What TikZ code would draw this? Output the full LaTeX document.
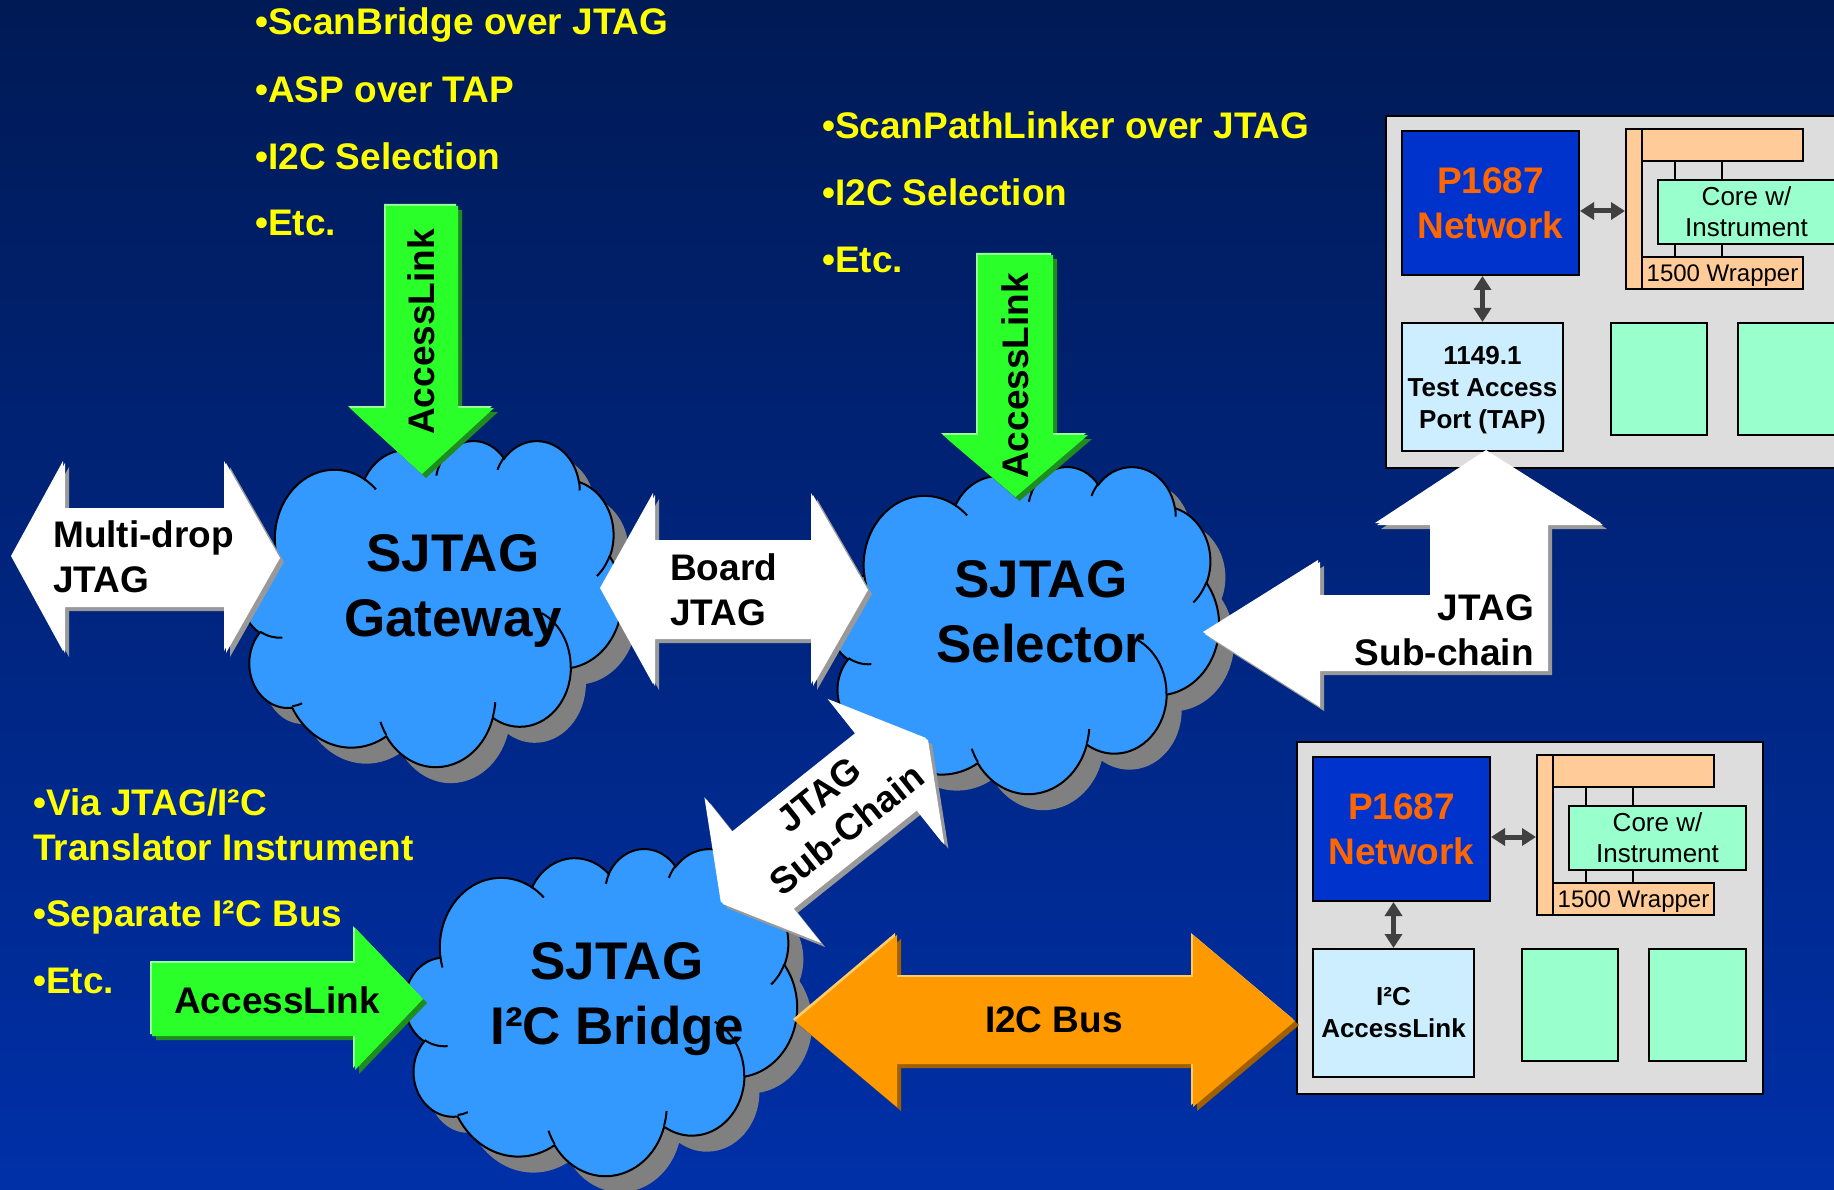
\documentclass[tikz,border=0pt]{standalone}
\usepackage{fontspec}
\setmainfont{Liberation Sans}
\usetikzlibrary{arrows.meta}

\definecolor{bgtop}{HTML}{001A55}
\definecolor{bgbot}{HTML}{0030A8}
\definecolor{cloudblue}{HTML}{3399FF}
\definecolor{cloudshade}{HTML}{808080}
\definecolor{txtyellow}{HTML}{FFFF00}
\definecolor{accgreen}{HTML}{2AFF2A}
\definecolor{accgreendark}{HTML}{1E8C1E}
\definecolor{accgreenlight}{HTML}{99FF99}
\definecolor{busorange}{HTML}{FF9900}
\definecolor{busorangedark}{HTML}{A06000}
\definecolor{busorangelight}{HTML}{FFCC66}
\definecolor{arrowshade}{HTML}{999999}
\definecolor{panelgray}{HTML}{DDDDDD}
\definecolor{netblue}{HTML}{0033CC}
\definecolor{netorange}{HTML}{FF6600}
\definecolor{wrapperfill}{HTML}{FFCC99}
\definecolor{corefill}{HTML}{99FFCC}
\definecolor{portfill}{HTML}{CCEEFF}
\definecolor{linkgray}{HTML}{404040}

% font size helper: size and line spacing in pt
\newcommand\fsz[2]{\fontsize{#1}{#2}\selectfont}
% block arrow: shadow colour, highlight colour, fill colour, outline path
\newcommand\sjblock[4]{%
  \fill[#1, shift={(4,4)}] #4;
  \fill[#2, shift={(-2,-2)}] #4;
  \fill[#3] #4;}

% cloud outline in a 100 x 100 box (eleven elliptic puffs)
\newcommand\cloudoutline{(9.028,33.264)
  arc[start angle=172.255, delta angle=128.108, x radius=15.632, y radius=21.273]
  arc[start angle=-152.029, delta angle=106.568, x radius=12.345, y radius=16.822]
  arc[start angle=-153.49, delta angle=116.17, x radius=10.104, y radius=13.762]
  arc[start angle=-139.71, delta angle=129.50, x radius=11.243, y radius=15.266]
  arc[start angle=-74.77, delta angle=97.98, x radius=12.345, y radius=16.836]
  arc[start angle=-37.52, delta angle=119.38, x radius=15.683, y radius=21.343]
  arc[start angle=0.46, delta angle=121.52, x radius=13.391, y radius=18.211]
  arc[start angle=16.85, delta angle=129.37, x radius=15.630, y radius=21.331]
  arc[start angle=58.99, delta angle=91.19, x radius=17.870, y radius=24.405]
  arc[start angle=83.31, delta angle=139.79, x radius=10.093, y radius=13.699]
  arc[start angle=120.36, delta angle=143.75, x radius=10.058, y radius=13.762] -- cycle}
% short creases where the puffs overlap
\newcommand\cloudcreases{
  (10.863,60.595) arc[start angle=85.546, delta angle=34.81, x radius=10.058, y radius=13.762]
  (16.037,80.785) arc[start angle=68.23, delta angle=15.08, x radius=10.093, y radius=13.699]
  (38.144,90.486) arc[start angle=146.22, delta angle=12.26, x radius=15.630, y radius=21.331]
  (66.729,80.442) arc[start angle=4.738, delta angle=12.11, x radius=15.630, y radius=21.331]
  (79.002,53.134) arc[start angle=-64.03, delta angle=64.49, x radius=13.391, y radius=18.211]
  (96.755,35.542) arc[start angle=23.21, delta angle=26.43, x radius=12.345, y radius=16.836]
  (88.713,12.560) arc[start angle=-10.21, delta angle=11.03, x radius=11.243, y radius=15.266]
  (67.310,9.148) arc[start angle=-156.29, delta angle=16.58, x radius=11.243, y radius=15.266]
  (51.252,10.926) arc[start angle=-167.73, delta angle=14.24, x radius=10.104, y radius=13.762]
  (32.407,12.019) arc[start angle=-59.637, delta angle=13.89, x radius=15.632, y radius=21.273]
  (9.553,36.549) arc[start angle=163.19, delta angle=9.07, x radius=15.632, y radius=21.273]}
% cloud with drop shadow: top-left x, top-left y, width/100, height/100
\newcommand\sjcloud[4]{%
  \begin{scope}[shift={(#1+15,#2+16)}, x=#3pt, y=-#4pt]
    \fill[cloudshade] \cloudoutline;
  \end{scope}
  \begin{scope}[shift={(#1,#2)}, x=#3pt, y=-#4pt]
    \filldraw[fill=cloudblue, draw=black, line width=2] \cloudoutline;
    \draw[black, line width=2] \cloudcreases;
  \end{scope}}

\tikzset{
  lbl/.style={font=\bfseries\fsz{37}{45}, inner sep=0, text=black},
  note/.style={font=\bfseries\fsz{37}{45}, inner sep=0, text=txtyellow, anchor=base west},
  cloudtxt/.style={font=\bfseries\fsz{53}{65}, align=center, inner sep=0},
  box/.style={draw=black, line width=2, inner sep=0},
  sz/.style 2 args={minimum width=#1, minimum height=#2},
  dbl/.style={draw=linkgray, line width=5,
    {Triangle[length=14pt,width=17pt]}-{Triangle[length=14pt,width=17pt]}},
  tie/.style={draw=black, line width=1.5},
  chip/.pic={
    \node[box, sz={466}{352}, fill=panelgray] (-frame) at (233,176) {};
    \node[box, sz={177}{144}, fill=netblue, font=\bfseries\fsz{37}{45},
          text=netorange, align=center] (-net) at (104.5,87) {P1687\\Network};
    \node[box, sz={16}{160}, fill=wrapperfill] (-vbar) at (248,93) {};
    \node[box, sz={161}{32}, fill=wrapperfill] (-topbar) at (336.5,29) {};
    \node[box, sz={161}{32}, fill=wrapperfill, font=\fsz{24}{28},
          text height=17pt, text depth=0pt] (-botbar) at (336.5,157) {1500 Wrapper};
    \node[box, sz={177}{64}, fill=corefill, font=\fsz{26}{31}, align=center] (-core) at (360.5,96) {Core w/\\Instrument};
    \node[box, sz={161}{128}, fill=portfill, font=\bfseries\fsz{26}{32}, align=center] (-port) at (96.5,271) {#1};
    \node[box, sz={96}{112}, fill=corefill] (-minta) at (273,263) {};
    \node[box, sz={97}{112}, fill=corefill] (-mintb) at (400.5,263) {};
    \foreach \dx in {-71.5,-24.5} {
      \draw[tie] ([xshift=\dx]-core.north) -- ++(0,-19);
      \draw[tie] ([xshift=\dx]-core.south) -- ++(0,13);
    }
    \draw[dbl] ([yshift=-8]-net.east) -- ([yshift=-2]-vbar.west);
    \draw[dbl] ([xshift=-8]-net.south) -- (-port.north);
  }
}

\begin{document}
\begin{tikzpicture}[x=1pt, y=-1pt]
\useasboundingbox (0,0) rectangle (1834,1190);
\clip (0,0) rectangle (1834,1190);
\shade[top color=bgtop, bottom color=bgbot] (0,0) rectangle (1834,1190);

% chip panels
\pic (tp) at (1386,116) {chip={1149.1\\Test Access\\\smash{Port (TAP)}}};
\pic (bp) at (1297,742) {chip={I²C\\AccessLink}};

% clouds
\sjcloud{241}{440}{3.81}{3.26}
\sjcloud{829}{466}{3.90}{3.27}
\sjcloud{405}{848}{3.92}{3.27}

\node[cloudtxt] (gwtxt)  at (453,591) {SJTAG\\Gateway};
\node[cloudtxt] (seltxt) at (1041,612) {SJTAG\\Selector};
\node[cloudtxt] (brtxt)  at (617,999) {SJTAG\\I²C Bridge};

% white JTAG arrows
\sjblock{arrowshade}{white}{white}{(13,558) -- (65,463) -- (65,510) -- (226,510) -- (226,463) -- (280,558)
  -- (226,653) -- (226,607) -- (65,607) -- (65,653) -- cycle}
\node[lbl, anchor=west, align=left] (mdtxt) at (53,557) {Multi-drop\\JTAG};

\sjblock{arrowshade}{white}{white}{(602,590) -- (655,495) -- (655,542) -- (813,542) -- (813,495) -- (868,590)
  -- (813,686) -- (813,639) -- (655,639) -- (655,686) -- cycle}
\node[lbl, anchor=west, align=left] (bjtxt) at (670,590) {Board\\JTAG};

\sjblock{arrowshade}{white}{white}{(1205,634) -- (1320,562) -- (1320,597) -- (1432,597) -- (1432,525)
  -- (1377,525) -- (1488,452) -- (1603,525) -- (1548,525) -- (1548,671) -- (1320,671) -- (1320,707) -- cycle}
\node[lbl, anchor=east, align=right] (sctxt) at (1534,630) {JTAG\\Sub-chain};

\sjblock{arrowshade}{white}{white}{(722.8,904) -- (706.4,799.3) -- (733.8,833.7) -- (857,735.3) -- (829.6,700.9)
  -- (928,740) -- (944.4,844.7) -- (917,810.3) -- (793.8,908.7) -- (821.2,943.1) -- cycle}
\node[lbl, align=center, rotate=38.6] (dgtxt) at (833,812) {JTAG\\Sub-Chain};

% green AccessLink arrows
\sjblock{accgreendark}{accgreenlight}{accgreen}{(386,206) -- (458,206) -- (458,408) -- (494,408)
  -- (422,474) -- (350,408) -- (386,408) -- cycle}
\node[lbl, rotate=90] (acc1) at (421,332) {AccessLink};

\sjblock{accgreendark}{accgreenlight}{accgreen}{(978,255) -- (1053,255) -- (1053,435) -- (1088,435)
  -- (1015.5,497) -- (943,435) -- (978,435) -- cycle}
\node[lbl, rotate=90] (acc2) at (1015,376) {AccessLink};

\sjblock{accgreendark}{accgreenlight}{accgreen}{(152,963) -- (355,963) -- (355,928) -- (423,999)
  -- (355,1070) -- (355,1036) -- (152,1036) -- cycle}
\node[lbl] (acc3) at (277,1000) {AccessLink};

% orange I2C bus
\sjblock{busorangedark}{busorangelight}{busorange}{(795,1021) -- (897,935) -- (897,977) -- (1193,977)
  -- (1193,935) -- (1295,1021) -- (1193,1107) -- (1193,1064) -- (897,1064) -- (897,1107) -- cycle}
\node[lbl] (bustxt) at (1054,1020) {I2C Bus};

% yellow bullet notes
\node[note] (n1) at (255,35)  {•ScanBridge over JTAG};
\node[note] (n2) at (255,103) {•ASP over TAP};
\node[note] (n3) at (255,170) {•I2C Selection};
\node[note] (n4) at (255,236) {•Etc.};

\node[note] (m1) at (822,139) {•ScanPathLinker over JTAG};
\node[note] (m2) at (822,206) {•I2C Selection};
\node[note] (m3) at (822,273) {•Etc.};

\node[note] (k1) at (33,815) {•Via JTAG/I²C};
\node[note] (k2) at (33,860) {Translator Instrument};
\node[note] (k3) at (33,926) {•Separate I²C Bus};
\node[note] (k4) at (33,993) {•Etc.};
\end{tikzpicture}
\end{document}
